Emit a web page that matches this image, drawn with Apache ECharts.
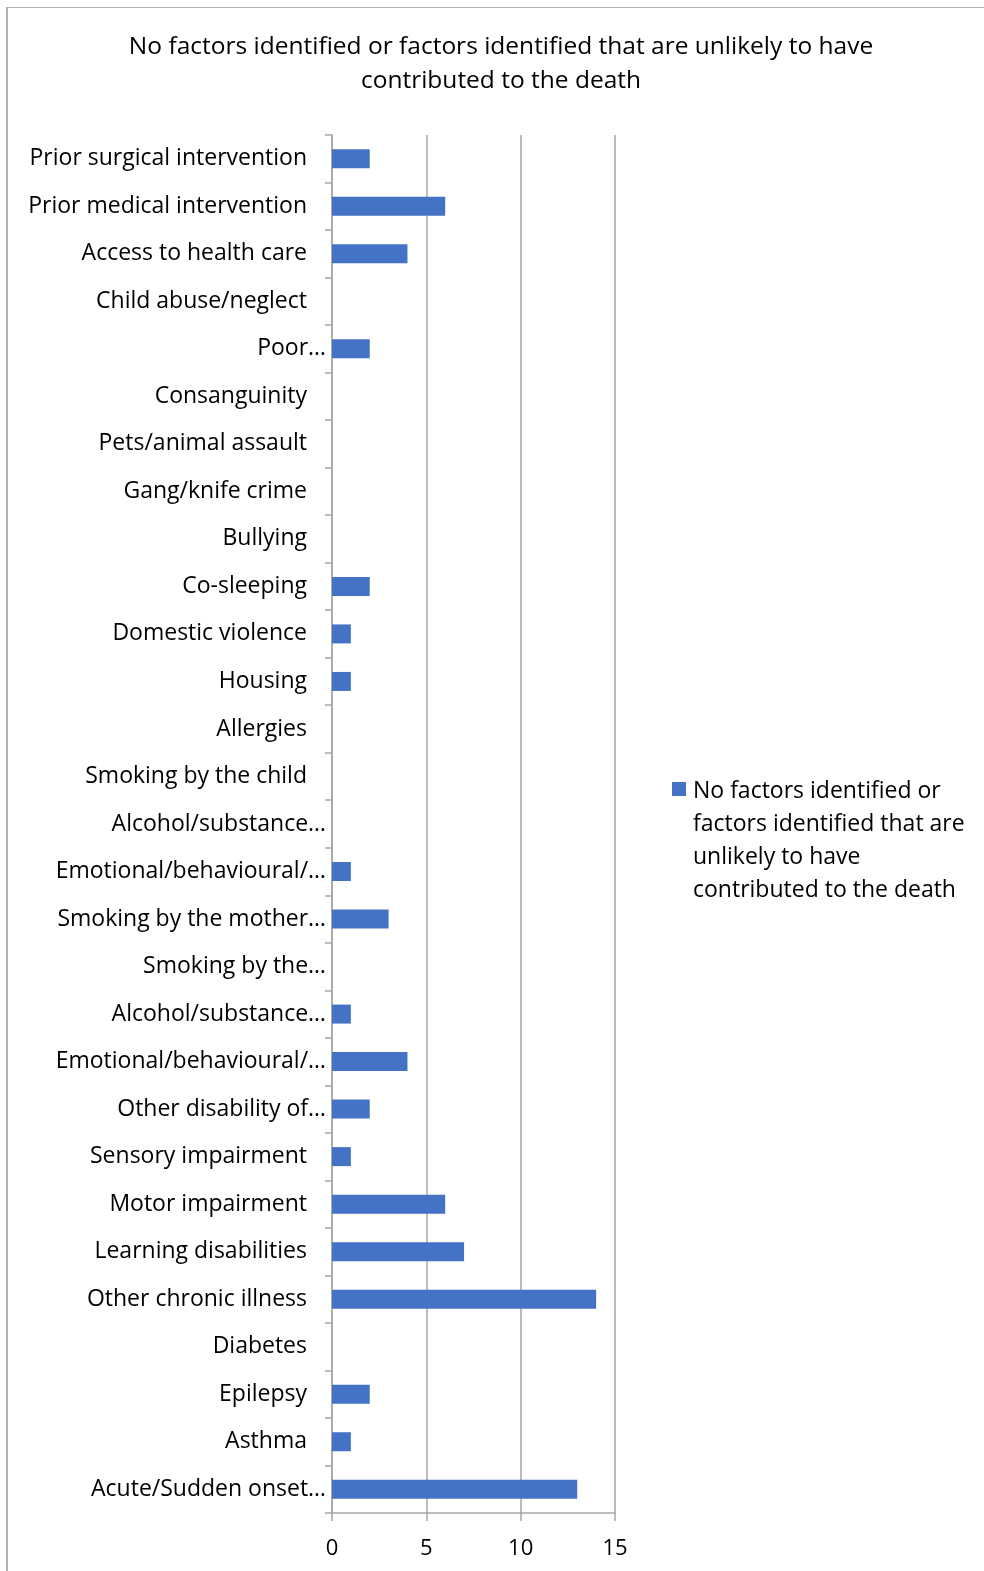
<!DOCTYPE html>
<html>
<head>
<meta charset="utf-8">
<script src="https://cdn.jsdelivr.net/npm/echarts@6/dist/echarts.min.js"></script>
<style>
  html, body { margin: 0; padding: 0; background: #fff; }
  #frame { position: absolute; left: 6px; top: 7px; right: 0; bottom: 0;
           border-top: 1px solid #b0b0b0; border-left: 2px solid #b0b0b0; }
  #chart { position: absolute; left: 0; top: 0; width: 984px; height: 1571px; }
</style>
</head>
<body>
<div id="frame"></div>
<div id="chart"></div>
<script>
// Categories, listed bottom-to-top as the category axis draws them
const categories = [
  'Acute/Sudden onset…',
  'Asthma',
  'Epilepsy',
  'Diabetes',
  'Other chronic illness',
  'Learning disabilities',
  'Motor impairment',
  'Sensory impairment',
  'Other disability of…',
  'Emotional/behavioural/…',
  'Alcohol/substance…',
  'Smoking by the…',
  'Smoking by the mother…',
  'Emotional/behavioural/…',
  'Alcohol/substance…',
  'Smoking by the child',
  'Allergies',
  'Housing',
  'Domestic violence',
  'Co-sleeping',
  'Bullying',
  'Gang/knife crime',
  'Pets/animal assault',
  'Consanguinity',
  'Poor…',
  'Child abuse/neglect',
  'Access to health care',
  'Prior medical intervention',
  'Prior surgical intervention'
];

const counts = [13, 1, 2, 0, 14, 7, 6, 1, 2, 4, 1, 0, 3, 1, 0, 0, 0, 1, 1, 2, 0, 0, 0, 0, 2, 0, 4, 6, 2];

const seriesName = 'No factors identified or factors identified that are unlikely to have contributed to the death';
const titleLines = ['No factors identified or factors identified that are unlikely to have', 'contributed to the death'];
const legendLines = ['No factors identified or', 'factors identified that are', 'unlikely to have', 'contributed to the death'];
const xTicks = { min: 0, max: 15, interval: 5 };

const FONT = '"Open Sans", "Noto Sans", sans-serif';
const GREY = '#a6a6a6';
const BLUE = '#4472c4';

const labelText = { color: '#000', fontSize: 23, fontFamily: FONT };

const chart = echarts.init(document.getElementById('chart'), null, { renderer: 'canvas' });

chart.setOption({
  animation: false,
  textStyle: { fontFamily: FONT },
  grid: { left: 332, right: 369, top: 135, bottom: 58, containLabel: false },
  xAxis: {
    type: 'value',
    min: xTicks.min, max: xTicks.max, interval: xTicks.interval,
    axisLine: { show: true, lineStyle: { color: GREY, width: 1.5 } },
    axisTick: { show: true, length: 8, lineStyle: { color: GREY, width: 1.5 } },
    splitLine: { show: true, lineStyle: { color: GREY, width: 1.5 } },
    axisLabel: { color: '#000', fontSize: 22, fontFamily: FONT, margin: 25 }
  },
  yAxis: {
    type: 'category',
    data: categories,
    axisLine: { show: true, lineStyle: { color: GREY, width: 1.5 } },
    axisTick: { show: true, length: 7, lineStyle: { color: GREY, width: 1.5 } },
    axisLabel: {
      ...labelText,
      margin: 6,
      // shortened names sit right against the axis; full names keep a gap
      formatter: (v) => (v.endsWith('…') ? '{cut|' + v + '}' : '{full|' + v + '}'),
      rich: {
        cut: { ...labelText },
        full: { ...labelText, padding: [0, 19, 0, 0] }
      }
    },
    splitLine: { show: false }
  },
  series: [{
    name: seriesName,
    type: 'bar',
    data: counts,
    barWidth: '40%',
    itemStyle: { color: BLUE }
  }],
  graphic: [
    {
      type: 'text',
      x: 501,
      y: 30,
      style: {
        text: titleLines.join('\n'),
        fontSize: 24.5,
        fontFamily: FONT,
        fill: '#000',
        align: 'center',
        lineHeight: 34
      }
    },
    {
      type: 'rect',
      shape: { x: 672, y: 782, width: 14, height: 14 },
      style: { fill: BLUE }
    },
    {
      type: 'text',
      x: 693,
      y: 775,
      style: {
        text: legendLines.join('\n'),
        fontSize: 23,
        fontFamily: FONT,
        fill: '#000',
        lineHeight: 33
      }
    }
  ]
});
</script>
</body>
</html>
